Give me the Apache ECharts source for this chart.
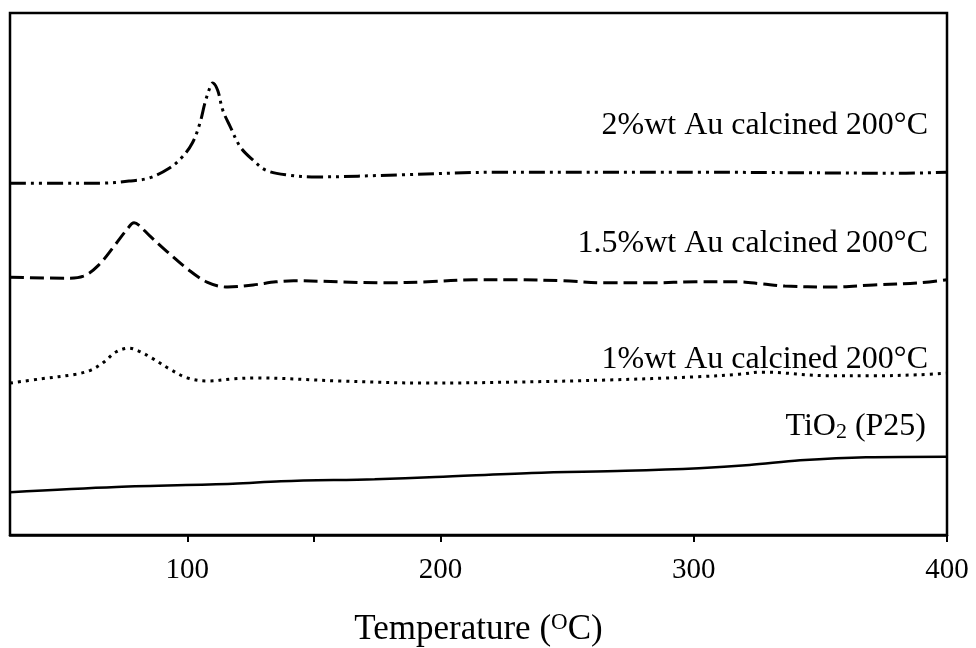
<!DOCTYPE html>
<html>
<head>
<meta charset="utf-8">
<script src="https://cdn.jsdelivr.net/npm/echarts@6/dist/echarts.min.js"></script>
<style>
html,body{margin:0;padding:0;background:#fff;}
#chart{width:976px;height:648px;}
</style>
</head>
<body>
<div id="chart"></div>
<script>
// Temperature (°C) vs signal (arbitrary units, 0-100)
const au2Temp = [30, 50, 66, 77, 85, 93, 98, 102, 105, 107, 109, 110, 112, 114, 117, 121, 126, 131, 139, 151, 184, 223, 263, 302, 342, 381, 400];
const au2Val  = [67.4, 67.4, 67.4, 67.8, 68.4, 70.3, 72.4, 75.1, 78.9, 82.8, 85.8, 86.6, 85.2, 81.4, 78.2, 74.3, 71.8, 69.9, 69.0, 68.6, 69.0, 69.5, 69.5, 69.5, 69.4, 69.3, 69.5];

const au15Temp = [30, 52, 59, 65, 72, 76, 79, 81, 85, 92, 100, 108, 116, 126, 135, 142, 178, 195, 213, 230, 248, 266, 283, 301, 318, 327, 336, 354, 371, 389, 400];
const au15Val  = [49.4, 49.2, 49.6, 51.7, 55.9, 58.4, 59.8, 59.3, 57.4, 54.3, 51.0, 48.4, 47.5, 47.9, 48.5, 48.7, 48.3, 48.5, 48.9, 48.9, 48.7, 48.3, 48.3, 48.5, 48.5, 48.1, 47.7, 47.5, 47.9, 48.3, 48.9];

const au1Temp = [30, 42, 56, 62, 67, 72, 77, 81, 86, 93, 100, 108, 118, 127, 160, 195, 230, 266, 301, 318, 327, 354, 371, 389, 400];
const au1Val  = [29.1, 29.9, 30.8, 31.6, 33.1, 35.1, 35.8, 35.2, 33.9, 31.8, 30.1, 29.5, 29.9, 30.1, 29.5, 29.1, 29.3, 29.7, 30.3, 30.8, 31.2, 30.5, 30.5, 30.7, 31.0];

const tio2Temp = [30, 72, 118, 137, 174, 198, 236, 273, 302, 322, 342, 368, 400];
const tio2Val  = [8.2, 9.2, 9.8, 10.3, 10.7, 11.1, 11.9, 12.3, 12.8, 13.4, 14.3, 14.9, 15.0];

const xTicks = [100, 200, 300, 400];
const xMinorTicks = [100, 150, 200, 300, 400];

const seriesNames = ['2%wt Au calcined 200°C', '1.5%wt Au calcined 200°C', '1%wt Au calcined 200°C', 'TiO2 (P25)'];

function pairs(xs, ys) { return xs.map((x, i) => [x, ys[i]]); }

const chart = echarts.init(document.getElementById('chart'), null, {renderer: 'canvas'});
const serif = '"Liberation Serif", "DejaVu Serif", serif';

chart.setOption({
  animation: false,
  backgroundColor: '#fff',
  grid: {left: 10, right: 29, top: 13, bottom: 113, show: true, borderColor: '#000', borderWidth: 2.5, backgroundColor: 'transparent',
         containLabel: false, outerBoundsMode: 'none'},
  xAxis: {
    type: 'value', min: 30, max: 400,
    axisLine: {show: true, lineStyle: {color: '#000', width: 2.5}},
    axisTick: {show: true, customValues: xMinorTicks, length: 7, inside: false, lineStyle: {color: '#000', width: 2}},
    axisLabel: {customValues: xTicks, color: '#000', fontFamily: serif, fontSize: 29, margin: 21},
    splitLine: {show: false},
    name: 'Temperature ({sup|O}C)',
    nameLocation: 'middle', nameGap: 76,
    nameTextStyle: {
      color: '#000', fontFamily: serif, fontSize: 35,
      rich: {sup: {fontSize: 23, fontFamily: serif, color: '#000', verticalAlign: 'top', padding: [0, 0, 14, 0]}}
    }
  },
  yAxis: {
    type: 'value', min: 0, max: 100,
    axisLine: {show: false}, axisTick: {show: false}, axisLabel: {show: false}, splitLine: {show: false}
  },
  series: [
    {name: seriesNames[0], type: 'line', data: pairs(au2Temp, au2Val), smooth: 0.35, showSymbol: false,
     lineStyle: {color: '#000', width: 3, type: [16, 5, 3, 5, 3, 5]}},
    {name: seriesNames[1], type: 'line', data: pairs(au15Temp, au15Val), smooth: 0.35, showSymbol: false,
     lineStyle: {color: '#000', width: 3, type: [14, 6]}},
    {name: seriesNames[2], type: 'line', data: pairs(au1Temp, au1Val), smooth: 0.35, showSymbol: false,
     lineStyle: {color: '#000', width: 3, type: [3, 5]}},
    {name: seriesNames[3], type: 'line', data: pairs(tio2Temp, tio2Val), smooth: 0.35, showSymbol: false,
     lineStyle: {color: '#000', width: 2.5, type: 'solid'}}
  ],
  graphic: [
    {type: 'text', x: 928, y: 126, style: {text: seriesNames[0], fill: '#000', font: '32px ' + serif, textAlign: 'right', textVerticalAlign: 'middle'}},
    {type: 'text', x: 928, y: 244, style: {text: seriesNames[1], fill: '#000', font: '32px ' + serif, textAlign: 'right', textVerticalAlign: 'middle'}},
    {type: 'text', x: 928, y: 360, style: {text: seriesNames[2], fill: '#000', font: '32px ' + serif, textAlign: 'right', textVerticalAlign: 'middle'}},
    {type: 'text', x: 926, y: 427, style: {text: 'TiO{sub|2} (P25)', fill: '#000', font: '32px ' + serif, textAlign: 'right', textVerticalAlign: 'middle',
      rich: {sub: {fontSize: 22, fontFamily: serif, fill: '#000', verticalAlign: 'bottom', padding: [10, 0, 0, 0]}}}}
  ]
});
</script>
</body>
</html>
